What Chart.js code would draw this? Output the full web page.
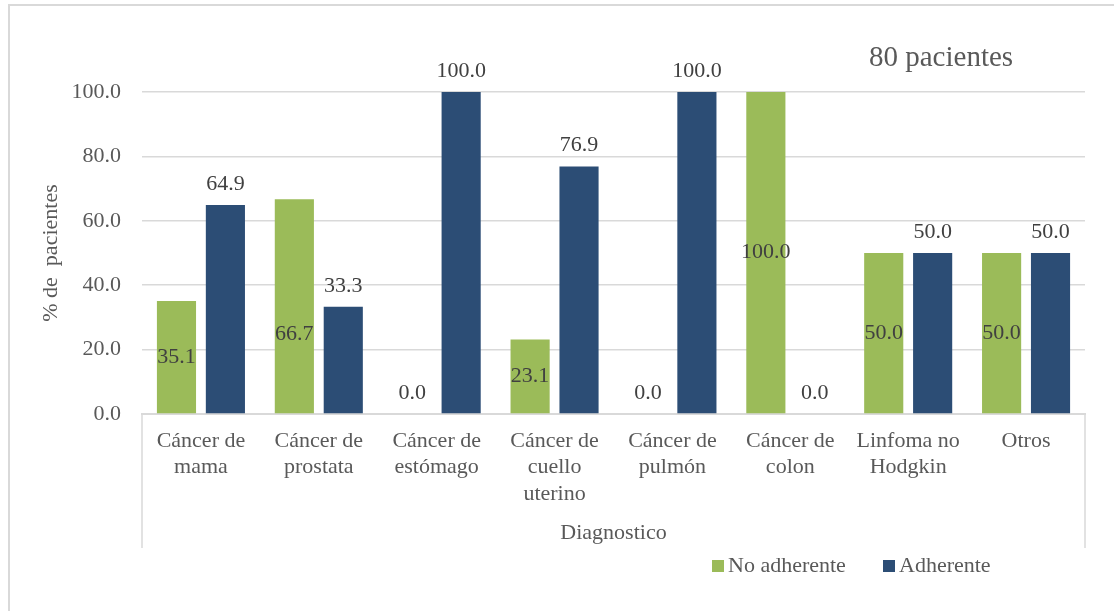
<!DOCTYPE html>
<html lang="es">
<head>
<meta charset="utf-8">
<title>Adherencia por diagnóstico</title>
<script src="https://cdn.jsdelivr.net/npm/chart.js@4.4.1/dist/chart.umd.min.js"></script>
<style>
    html, body { margin: 0; padding: 0; background: #ffffff; }
    #wrap { position: relative; width: 1114px; height: 611px; }
</style>
</head>
<body>
<div id="wrap"><canvas id="diagChart"></canvas></div>
<script>
// Data
const categories = [
    ['Cáncer de', 'mama'],
    ['Cáncer de', 'prostata'],
    ['Cáncer de', 'estómago'],
    ['Cáncer de', 'cuello', 'uterino'],
    ['Cáncer de', 'pulmón'],
    ['Cáncer de', 'colon'],
    ['Linfoma no', 'Hodgkin'],
    ['Otros']
];
const noAdherente = [35.1, 66.7, 0.0, 23.1, 0.0, 100.0, 50.0, 50.0];
const adherente = [64.9, 33.3, 100.0, 76.9, 100.0, 0.0, 50.0, 50.0];
const yTicks = [0, 20, 40, 60, 80, 100];
const groupTitle = 'Diagnostico';
const noteText = '80 pacientes';

const SERIF = "'Liberation Serif', 'Times New Roman', serif";
const GREY_TEXT = '#595959';
const GRID = '#d9d9d9';

Chart.defaults.font.family = SERIF;
Chart.defaults.color = GREY_TEXT;

// Value labels: "No adherente" sits inside the bar (centred), "Adherente" above it.
// One inside label was dragged down a bit in the source sheet.
const INSIDE_DATASET = 0;
const MANUAL_SHIFT = { '0:1': 28 };

const barLabels = {
    id: 'barLabels',
    afterDatasetsDraw(chart) {
        const ctx = chart.ctx;
        ctx.save();
        ctx.font = '22px ' + SERIF;
        ctx.fillStyle = '#404040';
        ctx.textAlign = 'center';
        ctx.textBaseline = 'middle';
        chart.data.datasets.forEach((ds, di) => {
            const meta = chart.getDatasetMeta(di);
            meta.data.forEach((bar, i) => {
                const v = ds.data[i];
                let y = (di === INSIDE_DATASET && v > 0) ? (bar.y + bar.base) / 2 : bar.y - 21;
                y += MANUAL_SHIFT[di + ':' + i] || 0;
                ctx.fillText(v.toFixed(1), bar.x, y);
            });
        });
        ctx.restore();
    }
};

// Frame, group title, note and legend
const decorations = {
    id: 'decorations',
    beforeDraw(chart) {
        const ctx = chart.ctx;
        ctx.save();
        ctx.strokeStyle = GRID;
        ctx.lineWidth = 2;
        ctx.beginPath();
        ctx.moveTo(9, chart.height + 5);
        ctx.lineTo(9, 5);
        ctx.lineTo(chart.width + 5, 5);
        ctx.stroke();
        ctx.restore();
    },
    afterDraw(chart) {
        const ctx = chart.ctx;
        const x = chart.scales.x;
        ctx.save();

        // outer category level brackets
        ctx.strokeStyle = GRID;
        ctx.lineWidth = 1.5;
        ctx.beginPath();
        ctx.moveTo(x.left, x.top);
        ctx.lineTo(x.left, x.top + 134);
        ctx.moveTo(x.right, x.top);
        ctx.lineTo(x.right, x.top + 134);
        ctx.stroke();

        ctx.fillStyle = GREY_TEXT;
        ctx.textBaseline = 'middle';
        ctx.textAlign = 'center';
        ctx.font = '22px ' + SERIF;
        ctx.fillText(groupTitle, (x.left + x.right) / 2, 533);

        ctx.textAlign = 'left';
        ctx.font = '29px ' + SERIF;
        ctx.fillText(noteText, 869, 58);

        // legend
        ctx.font = '22px ' + SERIF;
        const legendX = [712, 883];
        chart.data.datasets.forEach((ds, di) => {
            ctx.fillStyle = ds.backgroundColor;
            ctx.fillRect(legendX[di], 560, 12, 12);
            ctx.fillStyle = GREY_TEXT;
            ctx.fillText(ds.label, legendX[di] + 16, 566);
        });
        ctx.restore();
    }
};

const ctxDiag = document.getElementById('diagChart').getContext('2d');
const diagChart = new Chart(ctxDiag, {
    type: 'bar',
    data: {
        labels: categories,
        datasets: [
            {
                label: 'No adherente',
                data: noAdherente,
                backgroundColor: '#9BBB59',
                categoryPercentage: 0.83,
                barPercentage: 0.8
            },
            {
                label: 'Adherente',
                data: adherente,
                backgroundColor: '#2C4D75',
                categoryPercentage: 0.83,
                barPercentage: 0.8
            }
        ]
    },
    options: {
        responsive: true,
        maintainAspectRatio: false,
        animation: false,
        layout: { padding: { left: 10, right: 29, top: 92, bottom: 0 } },
        scales: {
            x: {
                grid: { display: false, drawTicks: false },
                border: { display: true, color: GRID, width: 2 },
                ticks: {
                    color: GREY_TEXT,
                    font: { size: 22, lineHeight: 1.2 },
                    padding: 14,
                    maxRotation: 0,
                    autoSkip: false
                },
                afterFit(scale) { scale.height = 197; }
            },
            y: {
                min: 0,
                max: 100,
                afterBuildTicks(scale) {
                    scale.ticks = yTicks.map(v => ({ value: v }));
                },
                grid: { color: GRID, lineWidth: 1.5, drawTicks: false },
                border: { display: false },
                ticks: {
                    color: GREY_TEXT,
                    font: { size: 22 },
                    padding: 21,
                    callback: v => v.toFixed(1)
                },
                title: {
                    display: true,
                    text: '% de  pacientes',
                    color: GREY_TEXT,
                    font: { size: 22, lineHeight: 1.2 },
                    padding: { top: 28 }
                },
                afterFit(scale) { scale.width = 132; }
            }
        },
        plugins: {
            legend: { display: false },
            tooltip: { enabled: false }
        }
    },
    plugins: [barLabels, decorations]
});
</script>
</body>
</html>
